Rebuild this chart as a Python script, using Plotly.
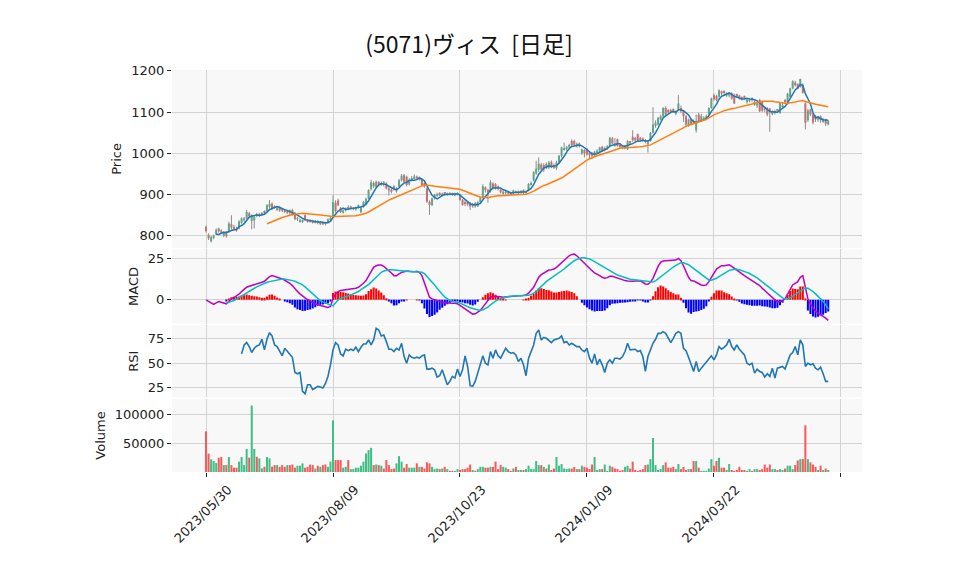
import plotly.graph_objects as go
from plotly.subplots import make_subplots
import pandas as pd

title = "(5071)ヴィス  [日足]"
tick_labels = ["2023/05/30", "2023/08/09", "2023/10/23", "2024/01/09", "2024/03/22", ""]

open_ = [822, 803, 787, 795, 804, 818, 813, 800, 809, 810, 828, 822, 818, 818, 832, 838, 843, 855, 836, 838,
         852, 849, 852, 860, 860, 870, 878, 871, 864, 870, 866, 862, 856, 862, 862, 856, 841, 836, 834, 850,
         838, 838, 836, 832, 836, 829, 833, 832, 831, 838, 846, 880, 886, 868, 856, 862, 870, 866, 866, 864,
         869, 857, 870, 877, 891, 913, 928, 919, 929, 924, 930, 927, 915, 912, 920, 908, 919, 935, 947, 943,
         925, 935, 940, 944, 938, 936, 928, 915, 883, 875, 891, 899, 903, 898, 904, 900, 903, 902, 898, 901,
         900, 887, 882, 882, 880, 872, 879, 872, 882, 893, 918, 912, 908, 927, 925, 920, 912, 903, 904, 907,
         905, 902, 908, 904, 905, 911, 904, 910, 925, 934, 951, 960, 973, 960, 974, 965, 979, 972, 964, 978,
         994, 1010, 1010, 1015, 1030, 1030, 1018, 1024, 1000, 1008, 1010, 1002, 1000, 995, 1003, 1006, 1016, 1008, 1012, 1018,
         1036, 1024, 1034, 1020, 1017, 1012, 1010, 1028, 1040, 1036, 1046, 1036, 1036, 1032, 1022, 1030, 1050, 1066, 1070, 1082,
         1090, 1110, 1104, 1104, 1106, 1096, 1106, 1110, 1102, 1090, 1066, 1082, 1078, 1056, 1094, 1078, 1082, 1084, 1094, 1110,
         1141, 1139, 1137, 1150, 1150, 1140, 1140, 1145, 1141, 1142, 1140, 1136, 1138, 1126, 1126, 1134, 1118, 1116, 1129, 1125,
         1112, 1110, 1108, 1096, 1098, 1106, 1098, 1114, 1128, 1121, 1137, 1157, 1172, 1168, 1161, 1165, 1121, 1080, 1106, 1094,
         1090, 1082, 1090, 1078, 1082, 1070]
high = [825, 806, 800, 803, 818, 820, 816, 811, 812, 834, 850, 826, 822, 838, 845, 846, 863, 858, 852, 850,
        856, 856, 858, 862, 877, 887, 881, 874, 870, 872, 868, 864, 862, 864, 866, 858, 846, 842, 840, 853,
        841, 840, 839, 838, 838, 836, 835, 834, 842, 846, 898, 886, 890, 870, 864, 869, 874, 873, 870, 871,
        876, 871, 885, 893, 913, 936, 932, 934, 933, 932, 933, 930, 918, 915, 923, 918, 938, 950, 950, 946,
        940, 945, 949, 946, 944, 940, 930, 918, 886, 893, 902, 905, 906, 905, 906, 905, 906, 905, 905, 906,
        903, 890, 886, 884, 882, 880, 882, 884, 894, 925, 920, 914, 935, 930, 928, 922, 914, 910, 910, 909,
        907, 912, 910, 910, 911, 913, 910, 928, 932, 957, 982, 990, 977, 976, 978, 982, 983, 975, 982, 996,
        1016, 1026, 1018, 1023, 1034, 1033, 1026, 1026, 1012, 1010, 1013, 1005, 1003, 1006, 1010, 1016, 1018, 1016, 1020, 1040,
        1040, 1037, 1036, 1022, 1020, 1020, 1032, 1030, 1056, 1040, 1048, 1040, 1039, 1035, 1032, 1052, 1112, 1080, 1088, 1094,
        1112, 1114, 1107, 1108, 1109, 1104, 1141, 1116, 1104, 1093, 1084, 1085, 1082, 1094, 1098, 1096, 1090, 1094, 1112, 1135,
        1145, 1142, 1155, 1152, 1153, 1148, 1148, 1148, 1145, 1145, 1142, 1138, 1140, 1134, 1134, 1136, 1128, 1124, 1132, 1128,
        1114, 1112, 1110, 1104, 1106, 1108, 1122, 1124, 1132, 1146, 1159, 1177, 1176, 1170, 1181, 1170, 1124, 1108, 1108, 1098,
        1093, 1090, 1092, 1086, 1084, 1080]
low = [808, 790, 784, 792, 802, 808, 806, 797, 796, 807, 815, 812, 810, 816, 829, 834, 840, 844, 816, 818,
       845, 846, 849, 853, 858, 866, 863, 866, 860, 858, 858, 855, 853, 848, 849, 838, 836, 832, 831, 836,
       832, 832, 830, 830, 828, 826, 826, 825, 829, 836, 844, 856, 872, 855, 854, 859, 862, 864, 862, 861,
       866, 855, 868, 874, 889, 910, 916, 916, 920, 921, 920, 913, 898, 903, 910, 905, 917, 932, 928, 920,
       922, 932, 937, 936, 934, 921, 917, 880, 851, 872, 888, 895, 896, 895, 897, 897, 898, 897, 896, 898,
       885, 873, 872, 872, 863, 868, 868, 870, 880, 890, 905, 880, 905, 912, 912, 910, 903, 900, 900, 900,
       898, 900, 903, 902, 903, 901, 902, 908, 922, 932, 948, 955, 958, 955, 962, 962, 964, 962, 960, 975,
       990, 1006, 1006, 1012, 1018, 1018, 1014, 1014, 996, 990, 995, 988, 986, 992, 1000, 1003, 1004, 1005, 1009, 1015,
       1022, 1016, 1016, 1012, 1010, 1010, 1008, 1020, 1028, 1028, 1028, 1028, 1028, 1024, 1002, 1028, 1048, 1062, 1068, 1080,
       1088, 1092, 1096, 1097, 1098, 1092, 1104, 1098, 1076, 1066, 1064, 1068, 1070, 1050, 1076, 1076, 1078, 1080, 1092, 1108,
       1128, 1126, 1135, 1140, 1142, 1137, 1136, 1130, 1120, 1134, 1130, 1128, 1130, 1120, 1124, 1125, 1115, 1110, 1100, 1100,
       1100, 1090, 1052, 1092, 1094, 1098, 1096, 1112, 1120, 1118, 1135, 1155, 1162, 1155, 1159, 1145, 1058, 1076, 1090, 1070,
       1076, 1076, 1074, 1074, 1066, 1068]
close = [812, 794, 797, 801, 815, 811, 808, 809, 799, 830, 820, 815, 813, 835, 842, 843, 858, 848, 850, 847,
         849, 853, 855, 857, 874, 878, 867, 869, 868, 862, 861, 858, 860, 856, 852, 840, 843, 838, 838, 838,
         834, 835, 833, 836, 831, 834, 828, 829, 840, 844, 882, 860, 874, 858, 862, 867, 865, 871, 867, 869,
         874, 869, 882, 890, 911, 930, 920, 931, 925, 928, 923, 915, 910, 907, 913, 915, 935, 946, 931, 923,
         935, 940, 944, 939, 941, 923, 920, 883, 875, 891, 899, 901, 899, 902, 900, 902, 900, 899, 903, 904,
         887, 875, 878, 876, 871, 878, 872, 882, 891, 920, 911, 905, 930, 915, 916, 914, 906, 907, 906, 902,
         900, 910, 905, 908, 909, 904, 908, 926, 929, 954, 963, 975, 961, 972, 964, 978, 966, 965, 978, 994,
         1014, 1013, 1016, 1020, 1020, 1021, 1023, 1017, 1010, 1000, 997, 995, 994, 1004, 1006, 1014, 1006, 1013, 1017, 1038,
         1024, 1019, 1018, 1017, 1014, 1018, 1030, 1024, 1032, 1032, 1030, 1032, 1031, 1028, 1027, 1050, 1070, 1074, 1086, 1090,
         1110, 1094, 1100, 1102, 1102, 1102, 1121, 1102, 1090, 1070, 1082, 1070, 1074, 1078, 1078, 1090, 1086, 1090, 1110, 1133,
         1131, 1129, 1153, 1145, 1146, 1145, 1145, 1133, 1121, 1139, 1134, 1131, 1134, 1130, 1131, 1130, 1125, 1121, 1102, 1104,
         1106, 1094, 1100, 1100, 1102, 1102, 1121, 1118, 1126, 1145, 1157, 1175, 1165, 1157, 1180, 1147, 1074, 1104, 1094, 1075,
         1082, 1088, 1080, 1082, 1072, 1078]
volume = [70700, 32000, 22000, 19000, 15500, 24700, 26000, 12000, 12000, 26000, 12000, 7500, 7500, 18000, 26000, 12000, 40000, 25000, 115600, 40000,
          26500, 23600, 6300, 9200, 26000, 23600, 9200, 12000, 12000, 9000, 12000, 9000, 12000, 12000, 13000, 7500, 11000, 11000, 15000, 7500,
          9000, 13000, 12000, 6000, 11000, 9000, 12000, 13000, 9000, 18000, 89700, 20700, 20700, 20700, 7500, 9000, 20700, 5000, 5000, 7500,
          7500, 11000, 18000, 32000, 38000, 42000, 12000, 13000, 12000, 11000, 6000, 20700, 12000, 5000, 6000, 15000, 27600, 18000, 7500, 13800,
          7500, 7500, 7500, 15000, 9000, 9000, 6000, 16700, 15000, 9000, 5000, 6000, 5000, 6000, 9000, 5000, 2000, 2000, 2000, 5000,
          3500, 5000, 5000, 7500, 13000, 3500, 2000, 5000, 9000, 9000, 7500, 7500, 9000, 9000, 18000, 5000, 12000, 9000, 7500, 5000,
          2000, 6000, 9000, 3500, 3500, 3500, 5000, 11000, 5000, 5000, 19000, 12000, 12000, 9000, 6000, 13000, 3500, 6000, 26000, 11000,
          13800, 6000, 5000, 6000, 6000, 8600, 5000, 5000, 11000, 9000, 7500, 5000, 13000, 26000, 3500, 5000, 5000, 13000, 2000, 11000,
          9000, 6000, 5000, 2000, 3500, 9000, 11000, 6000, 18000, 3500, 2000, 3500, 5000, 12000, 13000, 22400, 59000, 12000, 3500, 5000,
          12000, 16700, 7500, 7500, 9000, 5000, 13800, 5000, 9000, 3500, 5000, 5000, 19000, 19000, 7500, 2000, 2000, 2000, 6000, 22400,
          11000, 19000, 24700, 7500, 7500, 3500, 13800, 3500, 2000, 3500, 9000, 3500, 3500, 2000, 5000, 2000, 5000, 5000, 3500, 5000,
          13000, 7500, 13000, 5000, 5000, 3500, 5000, 3500, 6000, 11000, 11000, 5000, 12000, 20000, 22400, 22400, 81000, 22400, 16700, 13000,
          9000, 3500, 11000, 3500, 6000, 3500]

macd = [0.0, -1.0, -2.0, -2.8, -1.8, -1.0, -1.4, -2.0, -2.4, -1.0, 0.6, 1.4, 2.2, 3.4, 5.0, 6.2, 7.6, 8.2, 8.6, 9.2,
        9.8, 10.2, 10.6, 11.2, 12.6, 14.0, 14.6, 14.2, 13.6, 13.0, 12.6, 11.8, 11.0, 10.0, 8.6, 6.6, 5.0, 3.6, 2.2, 1.2,
        0.2, -0.8, -1.8, -2.4, -3.0, -3.4, -4.0, -4.4, -4.6, -4.0, 0.6, 3.6, 5.0, 5.6, 5.8, 6.0, 6.2, 6.4, 6.6, 7.0,
        7.6, 8.6, 10.0, 11.6, 14.6, 17.0, 19.6, 20.6, 21.0, 21.0, 20.2, 19.0, 17.6, 16.2, 14.6, 14.6, 15.6, 16.6, 17.0, 17.4,
        17.2, 17.0, 17.0, 17.2, 16.6, 14.6, 10.6, 5.6, 1.6, 0.6, 0.0, -0.6, -1.0, -1.4, -1.8, -2.0, -2.2, -2.0, -2.0, -2.4,
        -3.4, -4.4, -5.4, -6.4, -7.8, -8.6, -8.4, -7.4, -6.4, -4.4, -2.4, -0.4, 1.6, 2.2, 2.2, 2.0, 1.8, 1.6, 1.8, 2.0,
        2.2, 2.4, 2.4, 2.4, 2.4, 2.6, 3.0, 4.0, 5.6, 7.6, 10.6, 13.6, 15.2, 16.2, 17.0, 18.0, 18.2, 18.6, 19.6, 21.0,
        22.6, 24.0, 25.6, 26.6, 27.4, 27.6, 26.6, 25.0, 23.6, 22.2, 20.6, 19.0, 17.6, 16.2, 15.6, 14.6, 13.6, 13.0, 13.4, 14.2,
        14.2, 13.6, 13.0, 12.6, 12.0, 11.6, 11.4, 11.2, 11.2, 11.4, 11.6, 11.4, 10.6, 9.6, 9.4, 10.6, 13.0, 16.6, 20.2, 22.6,
        23.4, 23.6, 23.6, 23.6, 23.8, 24.0, 25.0, 23.6, 20.6, 17.0, 13.6, 11.6, 11.4, 10.6, 9.6, 9.0, 8.6, 9.0, 11.0, 13.6,
        16.2, 18.6, 19.6, 20.6, 20.6, 21.0, 21.2, 20.2, 19.0, 18.2, 17.0, 15.6, 14.6, 13.6, 12.6, 11.6, 10.6, 9.6, 8.6, 7.0,
        5.6, 4.2, 2.6, 1.0, -0.4, -1.4, -1.0, -0.6, 0.6, 3.6, 6.6, 9.0, 10.0, 11.0, 13.6, 14.6, 7.6, 0.6, -2.4, -5.0,
        -7.0, -8.0, -8.8, -10.0, -11.0, -12.4]
signal = [None] * 8 + [
    -2.0, -1.6, -1.0, -0.4, 0.4, 1.4, 2.4, 3.4, 4.4, 5.4, 6.2, 7.0,
    7.8, 8.6, 9.4, 10.0, 10.6, 11.0, 11.4, 11.8, 12.2, 12.4, 12.6, 12.6, 12.4, 12.0, 11.6, 11.2, 10.6, 9.8, 9.0, 7.8,
    6.4, 5.0, 3.4, 2.0, 0.6, -0.4, -1.2, -2.0, -2.6, -3.2, -3.6, -1.4, 0.0, 0.8, 1.2, 1.8, 2.4, 3.0, 3.6, 4.2,
    5.0, 6.2, 7.4, 8.2, 9.2, 10.6, 12.2, 13.8, 15.4, 16.6, 17.4, 18.0, 18.2, 18.2, 18.0, 17.8, 17.6, 17.4, 17.4, 17.2,
    17.2, 17.0, 17.0, 17.0, 16.8, 16.6, 15.8, 14.2, 12.0, 10.4, 9.0, 7.0, 5.0, 3.4, 1.8, 0.6, -0.4, -0.8, -1.0, -1.4,
    -2.0, -2.8, -3.4, -4.2, -4.8, -5.2, -5.6, -6.2, -6.4, -6.0, -5.4, -4.4, -3.0, -1.8, -0.8, 0.0, 0.6, 1.2, 1.6, 2.0,
    2.2, 2.4, 2.4, 2.4, 2.4, 2.4, 2.6, 2.8, 3.2, 4.0, 5.0, 6.6, 8.2, 9.6, 11.0, 12.2, 13.2, 14.2, 15.2, 16.2,
    17.4, 18.6, 20.0, 21.4, 22.6, 23.6, 24.4, 25.0, 25.4, 25.4, 25.2, 24.6, 24.0, 23.2, 22.4, 21.4, 20.4, 19.4, 18.4, 17.4,
    16.6, 15.8, 15.0, 14.4, 13.8, 13.2, 12.8, 12.4, 12.2, 12.0, 11.8, 11.6, 11.4, 11.2, 11.0, 10.8, 10.8, 11.4, 12.6, 14.0,
    15.4, 16.6, 17.8, 18.8, 19.8, 20.8, 21.8, 22.4, 22.4, 22.0, 21.2, 20.0, 18.8, 17.6, 16.4, 15.2, 14.0, 12.8, 12.0, 11.8,
    12.2, 13.0, 14.0, 15.0, 16.0, 17.0, 17.8, 18.2, 18.4, 18.4, 18.2, 17.8, 17.2, 16.6, 15.9, 15.1, 14.2, 13.2, 12.0, 10.8,
    9.6, 8.4, 7.2, 6.0, 4.6, 3.4, 2.2, 1.2, 0.6, 0.6, 1.2, 2.2, 3.4, 4.6, 5.6, 6.6, 7.2, 7.0, 6.2, 5.0,
    3.6, 2.2, 0.6, -1.0, -3.0, -5.4]
rsi = [None] * 14 + [
    59.5, 68.7, 71.1, 67.0, 60.9, 65.3,
    67.7, 68.7, 74.5, 63.6, 74.5, 81.3, 77.9, 68.7, 67.0, 61.9, 57.5, 65.3, 61.9, 58.5, 56.1, 40.5, 39.1, 40.5, 21.1, 18.7,
    27.9, 27.9, 22.8, 24.5, 26.2, 25.5, 24.5, 28.9, 36.4, 48.3, 63.6, 71.1, 68.7, 59.5, 57.5, 64.3, 62.9, 64.3, 62.9, 66.3,
    61.9, 66.3, 69.7, 69.7, 73.8, 68.7, 73.8, 85.7, 84.0, 77.9, 78.9, 72.1, 64.3, 64.3, 61.9, 65.3, 63.6, 70.4, 56.8, 50.0,
    58.5, 56.1, 55.1, 56.1, 55.1, 57.5, 58.5, 43.9, 43.9, 44.9, 43.2, 35.7, 37.1, 43.2, 36.4, 27.9, 31.3, 36.4, 34.7, 43.9,
    36.4, 43.2, 57.5, 46.6, 26.9, 26.2, 31.3, 39.8, 47.0, 57.5, 50.0, 48.3, 61.9, 55.1, 63.6, 57.5, 55.1, 60.9, 65.3, 61.9,
    60.2, 60.9, 58.5, 51.7, 55.1, 48.3, 37.1, 55.1, 61.9, 68.7, 80.6, 84.0, 73.8, 76.5, 75.5, 73.1, 71.1, 73.8, 74.5, 75.5,
    77.9, 71.1, 72.1, 68.7, 70.4, 68.7, 67.0, 67.0, 63.6, 61.9, 65.3, 55.1, 50.0, 59.5, 48.3, 54.1, 48.3, 40.5, 50.0, 53.4,
    50.0, 55.1, 55.1, 54.1, 56.8, 61.9, 70.4, 63.6, 63.6, 64.3, 61.9, 62.9, 56.8, 41.5, 56.8, 63.6, 70.4, 74.5, 80.6, 80.6,
    82.3, 80.6, 75.5, 71.1, 75.5, 80.6, 82.3, 80.6, 65.3, 62.9, 56.1, 48.3, 41.5, 51.7, 41.5, 44.9, 48.3, 50.7, 55.1, 57.5,
    53.4, 58.5, 67.0, 64.3, 66.3, 68.7, 74.5, 67.0, 63.6, 68.7, 64.3, 60.9, 58.5, 50.0, 48.3, 50.0, 39.8, 43.9, 41.5, 40.5,
    35.7, 39.1, 36.4, 44.9, 34.7, 44.9, 45.9, 46.6, 43.9, 51.7, 58.5, 60.9, 67.0, 58.5, 73.8, 68.7, 46.6, 50.0, 48.3, 49.3,
    44.9, 43.2, 45.9, 39.1, 31.3, 31.3]

df = pd.DataFrame({"open": open_, "high": high, "low": low, "close": close,
                   "volume": volume, "macd": macd, "signal": signal, "rsi": rsi})
df["x"] = range(len(df))
df["ma5"] = df["close"].rolling(5).mean()
df["ma25"] = df["close"].rolling(25).mean()
df["hist"] = df["macd"] - df["signal"]

UP = "#3fbf86"
DOWN = "#f75a5a"
up = df["close"] >= df["open"]
candle_colors = [UP if u else DOWN for u in up]

fig = make_subplots(rows=4, cols=1, shared_xaxes=True, vertical_spacing=0.004,
                    row_heights=[180, 75, 73, 74])

# wicks
wx, wy = [], []
for i, h, l in zip(df["x"], df["high"], df["low"]):
    wx += [i, i, None]
    wy += [l, h, None]
fig.add_trace(go.Scatter(x=wx, y=wy, mode="lines", line=dict(color="#8c8c8c", width=1),
                         hoverinfo="skip"), row=1, col=1)
# bodies
fig.add_trace(go.Bar(x=df["x"], y=df["close"] - df["open"], base=df["open"], width=0.8,
                     marker=dict(color=candle_colors, line=dict(width=0))), row=1, col=1)
fig.add_trace(go.Scatter(x=df["x"], y=df["ma5"], mode="lines",
                         line=dict(color="#1f77b4", width=1.5)), row=1, col=1)
fig.add_trace(go.Scatter(x=df["x"], y=df["ma25"], mode="lines",
                         line=dict(color="#ff7f0e", width=1.5)), row=1, col=1)

# MACD
hist_colors = ["#ff0000" if v >= 0 else "#0000ff" for v in df["hist"].fillna(0)]
fig.add_trace(go.Bar(x=df["x"], y=df["hist"], width=0.8,
                     marker=dict(color=hist_colors, line=dict(width=0))), row=2, col=1)
fig.add_trace(go.Scatter(x=df["x"], y=df["macd"], mode="lines",
                         line=dict(color="#bf00bf", width=1.5)), row=2, col=1)
fig.add_trace(go.Scatter(x=df["x"], y=df["signal"], mode="lines",
                         line=dict(color="#00bfbf", width=1.5)), row=2, col=1)

# RSI
fig.add_trace(go.Scatter(x=df["x"], y=df["rsi"], mode="lines",
                         line=dict(color="#1f77b4", width=1.6)), row=3, col=1)

# Volume
fig.add_trace(go.Bar(x=df["x"], y=df["volume"], width=0.8,
                     marker=dict(color=candle_colors, line=dict(width=0))), row=4, col=1)

font = "DejaVu Sans, sans-serif"
tickvals = list(range(0, 251, 50))
grid = "#d3d3d3"

# the page adds an 8px body margin, so the figure is 8px smaller than the window
fig.update_layout(
    width=950, height=567,
    margin=dict(l=164, r=96, t=62, b=103),
    paper_bgcolor="white", plot_bgcolor="#f8f8f8",
    showlegend=False, barmode="overlay",
    font=dict(family=font, size=13, color="#222"),
    title=dict(text=title, x=0.4853, xanchor="center", y=0.9347, yanchor="middle",
               font=dict(family="Noto Sans CJK JP", size=23, color="#111")),
)
fig.update_xaxes(range=[-13.4, 258.3], tickvals=tickvals, showgrid=True, gridcolor=grid,
                 gridwidth=1, zeroline=False, showticklabels=False, ticks="")
fig.update_xaxes(row=4, col=1, showticklabels=True, ticktext=tick_labels, tickangle=-45,
                 ticks="outside", ticklen=4, tickcolor="#222", tickfont=dict(size=13),
                 ticklabelshift=22)

yaxis_common = dict(showgrid=True, gridcolor=grid, gridwidth=1, zeroline=False,
                    ticks="outside", ticklen=4, tickcolor="#222", tickfont=dict(size=13),
                    title_font=dict(size=13), title_standoff=6)
fig.update_yaxes(row=1, col=1, range=[771, 1202], tickvals=[800, 900, 1000, 1100, 1200],
                 title_text="Price", **yaxis_common)
fig.update_yaxes(row=2, col=1, range=[-14.3, 30.4], tickvals=[0, 25],
                 title_text="MACD", **yaxis_common)
fig.update_yaxes(row=3, col=1, range=[15, 89], tickvals=[25, 50, 75],
                 title_text="RSI", **yaxis_common)
fig.update_yaxes(row=4, col=1, range=[0, 127000], tickvals=[50000, 100000], tickformat="d",
                 title_text="Volume", **yaxis_common)

fig.write_html("out.html")
